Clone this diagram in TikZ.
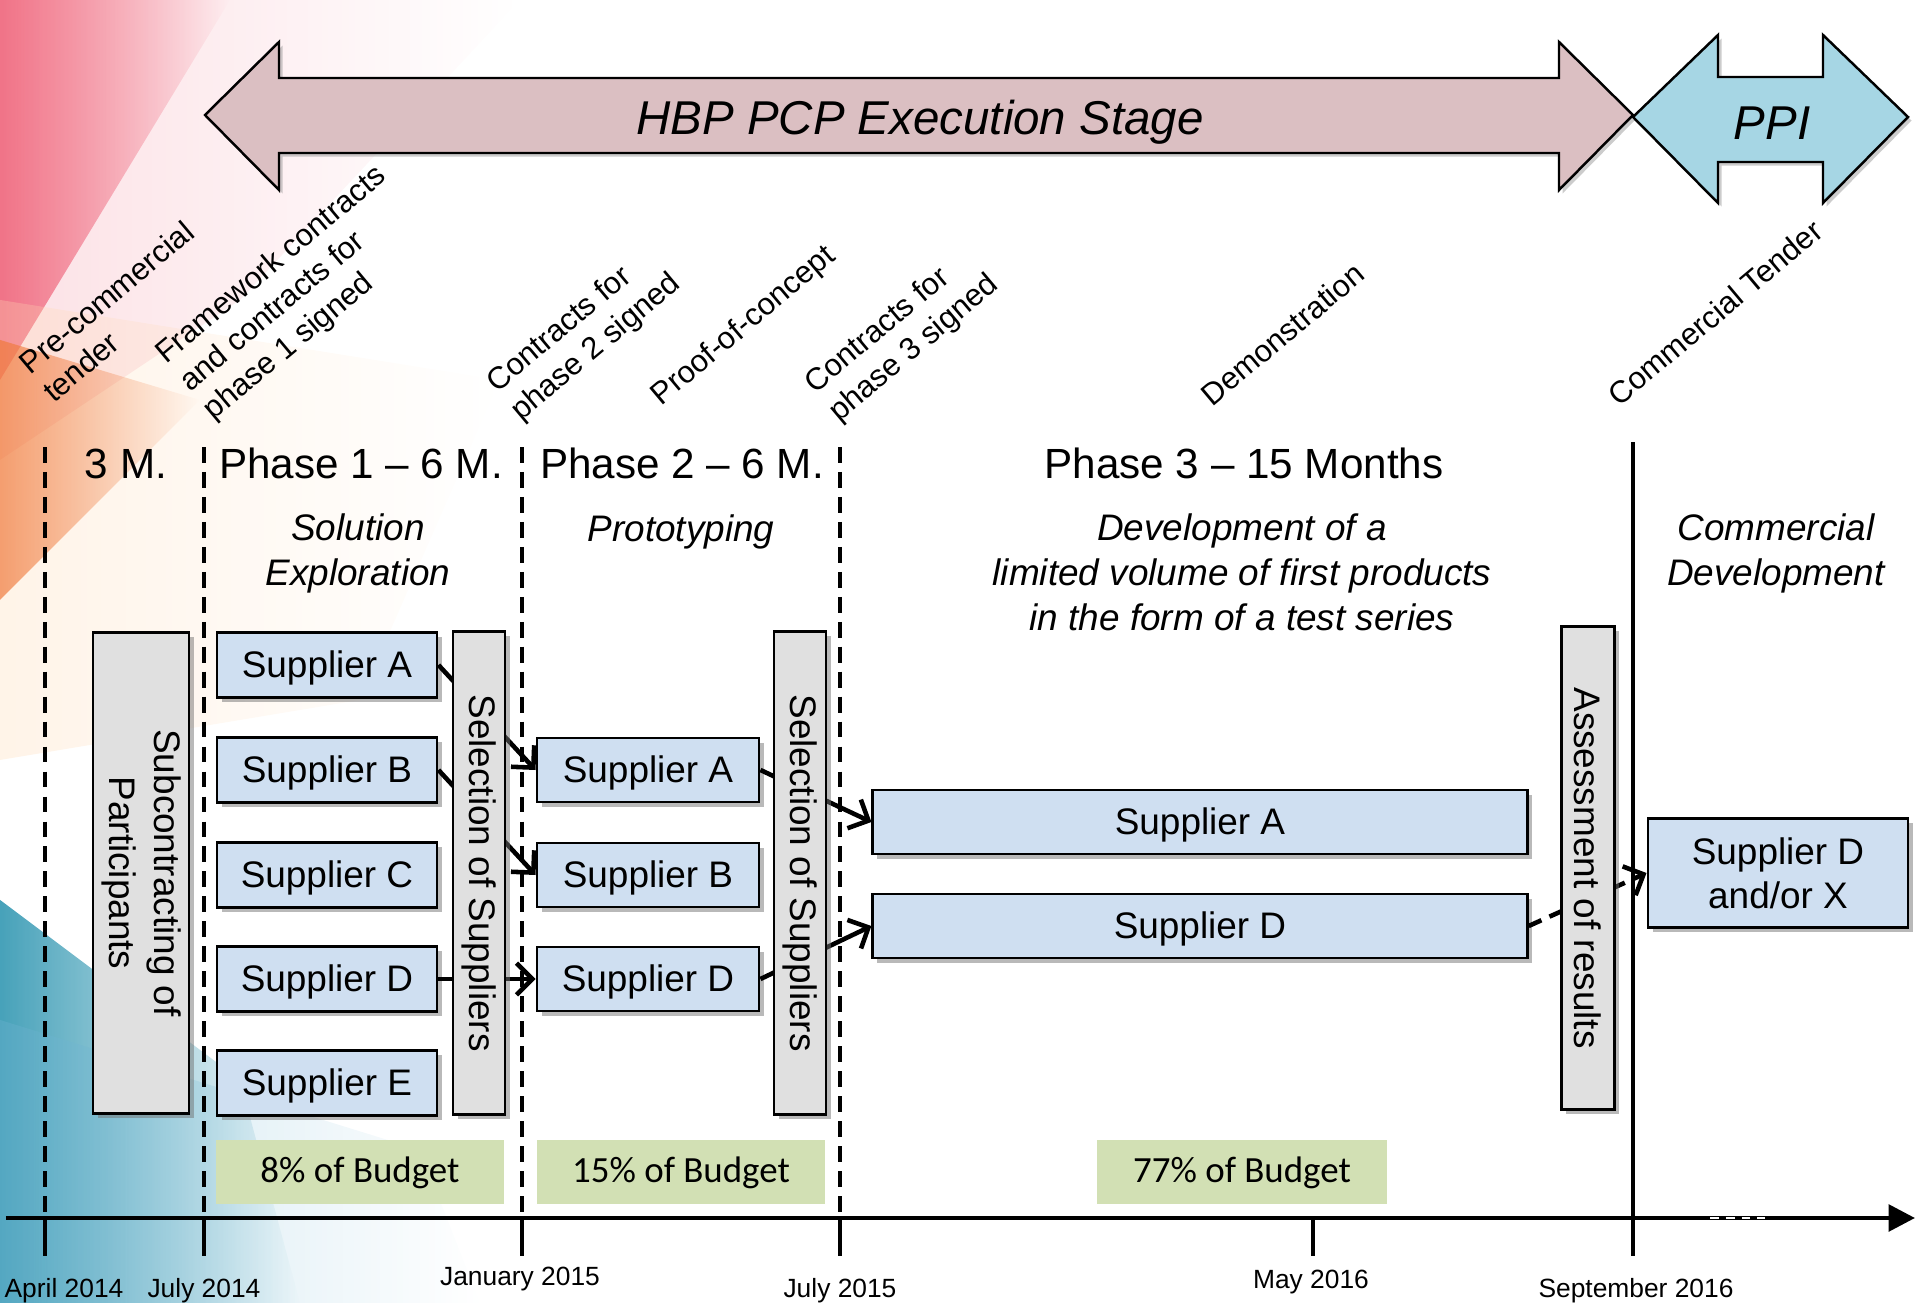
\documentclass[tikz,border=0pt]{standalone}
\usepackage{fontspec}
\setmainfont{Liberation Sans}
\newfontfamily\budgetfont{Carlito}
\usepackage{graphicx}
\usepackage{tikz}
\usetikzlibrary{calc,positioning,arrows.meta,shadows,fadings}
\definecolor{suppblue}{RGB}{207,223,241}
\definecolor{selgray}{RGB}{224,224,224}
\definecolor{budgreen}{RGB}{210,224,180}
\definecolor{pcprose}{RGB}{219,191,194}
\definecolor{ppicyan}{RGB}{166,214,228}
\definecolor{bgred}{RGB}{232,32,64}
\definecolor{bgorange}{RGB}{240,122,60}
\definecolor{bgteal}{RGB}{24,138,168}
\definecolor{bgblue}{RGB}{110,180,210}
\tikzfading[name=fadeout, left color=transparent!0, right color=transparent!100]
\tikzset{
  boxshadow/.style={drop shadow={shadow xshift=1.3pt,shadow yshift=-1.3pt,opacity=.5,fill=black!55}},
  supp/.style={rectangle,draw=black,line width=.8pt,fill=suppblue,boxshadow,inner sep=0pt,minimum width=2.2cm,minimum height=.65cm,
    text height=.72em,text depth=0pt,font=\fontsize{10.5}{12.6}\selectfont},
  longsupp/.style={supp,minimum width=6.54cm,minimum height=.64cm},
  selbox/.style={rectangle,draw=black,line width=.8pt,fill=selgray,boxshadow,inner sep=0pt,minimum width=.52cm,minimum height=4.82cm,font=\fontsize{10.5}{12.6}\selectfont},
  budget/.style={rectangle,fill=budgreen,inner sep=0pt,minimum width=2.88cm,minimum height=.63cm,text height=.6em,text depth=0pt,
    font=\budgetfont\fontsize{10.5}{12.6}\selectfont},
  phase/.style={font=\fontsize{12}{14.4}\selectfont},
  subtitle/.style={align=center,font=\fontsize{10.5}{12.8}\selectfont\itshape},
  milestone/.style={rotate=40,align=left,anchor=north west,inner sep=0pt,font=\fontsize{8.8}{10.5}\selectfont},
  datelbl/.style={anchor=base,inner sep=0pt,font=\fontsize{7.5}{9}\selectfont},
  stagearrow/.style={draw=black,line width=.7pt,drop shadow={shadow xshift=1pt,shadow yshift=-1pt,opacity=.4}},
  stagelbl/.style={font=\fontsize{13.5}{16}\selectfont\itshape},
  phasesep/.style={line width=1.3pt,dash pattern=on 4.5pt off 2.6pt},
  tickmark/.style={line width=1.2pt},
  line/.style={draw,line width=1.3pt,-{Straight Barb[length=4.5pt,width=9pt]}}
}
\begin{document}
\begin{tikzpicture}[x=0.01cm,y=-0.01cm]
  \useasboundingbox (0,0) rectangle (1920,1303);

  % coloured wash on the left edge
  \fill[bgred,opacity=.7,path fading=fadeout] (0,0) -- (230,0) -- (0,380) -- cycle;
  \fill[bgred!45,opacity=.3,path fading=fadeout] (0,0) -- (520,0) -- (240,300) -- (0,460) -- cycle;
  \fill[orange!30,opacity=.3,path fading=fadeout] (0,300) -- (500,380) -- (360,700) -- (0,760) -- cycle;
  \fill[bgorange,opacity=.7,path fading=fadeout] (0,340) -- (200,400) -- (0,600) -- cycle;
  \fill[bgteal,opacity=.8,path fading=fadeout] (0,900) -- (240,1080) -- (300,1303) -- (0,1303) -- cycle;
  \fill[bgblue,opacity=.35,path fading=fadeout] (0,1020) -- (420,1150) -- (480,1303) -- (0,1303) -- cycle;

  % stage arrows
  \draw[stagearrow,fill=pcprose] (205,115) -- (279,42) -- (279,78) -- (1559,78) -- (1559,42) -- (1633,115)
    -- (1559,190) -- (1559,153) -- (279,153) -- (279,190) -- cycle;
  \node[stagelbl] (pcp) at (920,122) {HBP PCP Execution Stage};
  \draw[stagearrow,fill=ppicyan] (1633,117) -- (1718,35) -- (1718,77) -- (1823,77) -- (1823,35) -- (1908,117)
    -- (1823,203) -- (1823,162) -- (1718,162) -- (1718,203) -- cycle;
  \node[stagelbl] (ppi) at (1772,123) {PPI};

  % milestones
  \node[milestone] (pct) at (15,358) {Pre-commercial\\tender};
  \node[milestone] (fwc) at (151,347) {Framework contracts\\and contracts for\\phase 1 signed};
  \node[milestone] (cp2) at (482,376) {Contracts for\\phase 2 signed};
  \node[milestone] (poc) at (646,389) {Proof-of-concept};
  \node[milestone] (cp3) at (800,377) {Contracts for\\phase 3 signed};
  \node[milestone] (demo) at (1197,390) {Demonstration};
  \node[milestone] (ctd) at (1604,390) {Commercial Tender};

  % time axis
  \foreach \x/\name in {45/apr14,204/jul14,522/jan15,840/jul15} {
    \coordinate (\name-top) at (\x,447);
    \coordinate (\name) at (\x,1218);
    \coordinate (\name-bot) at (\x,1256);
    \draw[phasesep] (\name-top) -- (\name);
    \draw[tickmark] (\name) -- (\name-bot);
  }
  \coordinate (may16) at (1313,1218);
  \coordinate (sep16-top) at (1633,442);
  \coordinate (sep16-bot) at (1633,1256);
  \draw[tickmark] (may16) -- ++(0,38);
  \draw[line width=1.4pt] (sep16-top) -- (sep16-bot);
  \coordinate (axstart) at (6,1218);
  \coordinate (axend) at (1915,1218);
  \draw[line width=1.3pt,-{Triangle[length=7.5pt,width=7.5pt]}] (axstart) -- (axend);
  \draw[white,line width=.5pt,dash pattern=on 2.5pt off 2pt] (1710,1218) -- (1765,1218);

  \node[datelbl] (d1) at (64,1297) {April 2014};
  \node[datelbl] (d2) at (204,1297) {July 2014};
  \node[datelbl] (d3) at (520,1285) {January 2015};
  \node[datelbl] (d4) at (840,1297) {July 2015};
  \node[datelbl] (d5) at (1311,1288) {May 2016};
  \node[datelbl] (d6) at (1636,1297) {September 2016};

  % phase headings
  \node[phase,anchor=base] (h0) at (126,478) {3 M.};
  \node[phase,anchor=base] (h1) at (361,478) {Phase 1 -- 6 M.};
  \node[phase,anchor=base] (h2) at (682,478) {Phase 2 -- 6 M.};
  \node[phase,anchor=base] (h3) at (1244,478) {Phase 3 -- 15 Months};

  \node[subtitle] (s1) at (358,553) {Solution\\Exploration};
  \node[subtitle] (s2) at (681,532) {Prototyping};
  \node[subtitle] (s3) at (1242,572) {Development of a\\limited volume of first products\\in the form of a test series};
  \node[subtitle] (s4) at (1776,553) {Commercial\\Development};

  % suppliers
  \node[selbox,minimum width=.96cm,minimum height=4.81cm] (subc) at (141,873) {\rotatebox{-90}{\begin{tabular}{@{}c@{}}Subcontracting of\\Participants\end{tabular}}};

  \node[supp] (p1a) at (327,665) {Supplier A};
  \node[supp] (p1b) at (327,770) {Supplier B};
  \node[supp] (p1c) at (327,875) {Supplier C};
  \node[supp] (p1d) at (327,979) {Supplier D};
  \node[supp] (p1e) at (327,1083) {Supplier E};

  \node[supp,minimum width=2.22cm,minimum height=.64cm] (p2a) at (648,770) {Supplier A};
  \node[supp,minimum width=2.22cm,minimum height=.64cm] (p2b) at (648,875) {Supplier B};
  \node[supp,minimum width=2.22cm,minimum height=.64cm] (p2d) at (648,979) {Supplier D};

  \node[longsupp] (p3a) at (1200,822) {Supplier A};
  \node[longsupp] (p3d) at (1200,926) {Supplier D};

  \node[supp,minimum width=2.6cm,minimum height=1.09cm,align=center,text height=,text depth=] (pdx) at (1778,873) {Supplier D\\and/or X};

  \begin{scope}[every path/.style=line]
    \path (p1a.east) -- (p2a.west);
    \path (p1b.east) -- (p2b.west);
    \path (p1d.east) -- (p2d.west);
    \path (p2a.east) -- (p3a.west);
    \path (p2d.east) -- (p3d.west);
    \path[dash pattern=on 4pt off 2.5pt] (p3d.east) -- (pdx.west);
  \end{scope}

  \node[selbox] (sel1) at (479,873) {\rotatebox{-90}{Selection of Suppliers}};
  \node[selbox] (sel2) at (800,873) {\rotatebox{-90}{Selection of Suppliers}};
  \node[selbox,minimum width=.53cm] (assess) at (1588,868) {\rotatebox{-90}{Assessment of results}};

  % budget shares
  \node[budget] (b1) at (360,1172) {8\% of Budget};
  \node[budget] (b2) at (681,1172) {15\% of Budget};
  \node[budget,minimum width=2.89cm] (b3) at (1242,1172) {77\% of Budget};
\end{tikzpicture}
\end{document}
